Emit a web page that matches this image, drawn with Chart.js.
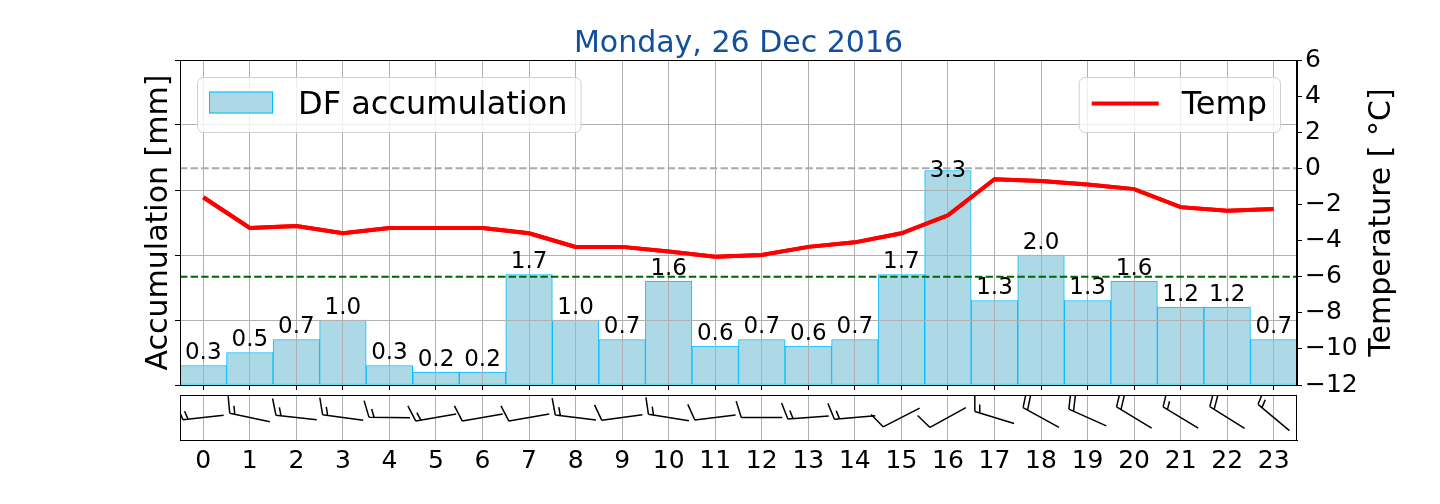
<!DOCTYPE html>
<html>
<head>
<meta charset="utf-8">
<title>DF accumulation</title>
<script src="https://cdn.jsdelivr.net/npm/chart.js@4.4.0/dist/chart.umd.min.js"></script>
<style>
  html, body { margin: 0; padding: 0; background: #fff; }
  #wrap { position: relative; width: 1440px; height: 504px; overflow: hidden; }
  #main-chart { position: absolute; left: 0; top: 0; }
  #wind-chart { position: absolute; left: 0; top: 392px; }
</style>
</head>
<body>
<div id="wrap">
  <canvas id="main-chart" width="1440" height="392"></canvas>
  <canvas id="wind-chart" width="1440" height="112"></canvas>
</div>
<script>
// data
const hours = ['0', '1', '2', '3', '4', '5', '6', '7', '8', '9', '10', '11',
  '12', '13', '14', '15', '16', '17', '18', '19', '20', '21', '22', '23'];
const accumulation = [0.3, 0.5, 0.7, 1.0, 0.3, 0.2, 0.2, 1.7, 1.0, 0.7, 1.6, 0.6,
  0.7, 0.6, 0.7, 1.7, 3.3, 1.3, 2.0, 1.3, 1.6, 1.2, 1.2, 0.7];
const temperature = [-1.6, -3.3, -3.2, -3.6, -3.3, -3.3, -3.3, -3.6, -4.35, -4.35, -4.6, -4.9,
  -4.8, -4.35, -4.1, -3.6, -2.6, -0.6, -0.7, -0.9, -1.15, -2.15, -2.35, -2.25];
// wind: direction it blows from (deg) and speed (kt)
const windDir = [264, 282, 276, 278, 271, 260, 260, 260, 277, 262, 279, 263,
  270, 266, 265, 243, 241, 287, 299, 294, 301, 301, 302, 310];
const windSpeed = [15, 15, 15, 15, 15, 15, 10, 10, 15, 10, 15, 10,
  10, 15, 15, 10, 10, 15, 20, 20, 20, 15, 20, 15];
const refLines = [0, -6]; // temperature reference lines

Chart.defaults.font.family = "'DejaVu Sans', sans-serif";
Chart.defaults.color = '#000';

const FONT = "'DejaVu Sans', sans-serif";
const minus = v => String(v).replace('-', '\u2212');

const drawLegendBox = (ctx, x, y, w, h) => {
  ctx.beginPath();
  ctx.roundRect(x + 0.5, y + 0.5, w, h, 6);
  ctx.fillStyle = 'rgba(255,255,255,0.8)';
  ctx.fill();
  ctx.strokeStyle = '#d0d0d0';
  ctx.lineWidth = 1;
  ctx.stroke();
};

const mainDecor = {
  id: 'mainDecor',
  afterDraw(chart) {
    const { ctx, chartArea: ca, scales } = chart;
    const yT = scales.yTemp;
    ctx.save();

    // dashed reference lines
    const lineColors = ['#aaaaaa', '#006400'];
    refLines.forEach((t, i) => {
      const py = yT.getPixelForValue(t);
      ctx.beginPath();
      ctx.setLineDash([7.4, 3.2]);
      ctx.strokeStyle = lineColors[i];
      ctx.lineWidth = 2;
      ctx.moveTo(ca.left, py);
      ctx.lineTo(ca.right, py);
      ctx.stroke();
    });
    ctx.setLineDash([]);

    // temperature line back on top of the grid
    chart.getDatasetMeta(0).controller.draw();

    // bar value labels
    const zeroY = yT.getPixelForValue(0);
    ctx.font = '23px ' + FONT;
    ctx.fillStyle = '#000';
    ctx.textAlign = 'center';
    ctx.textBaseline = 'alphabetic';
    chart.getDatasetMeta(1).data.forEach((bar, i) => {
      const ty = Math.max(bar.y - 6.5, zeroY + 8.4);
      ctx.fillText(accumulation[i].toFixed(1), bar.x, ty);
    });

    // frame
    ctx.strokeStyle = '#000';
    ctx.lineWidth = 1;
    ctx.strokeRect(Math.round(ca.left) + 0.5, Math.round(ca.top) + 0.5,
      Math.round(ca.width) - 1, Math.round(ca.height));

    // legends
    ctx.font = '32px ' + FONT;
    const boxTop = ca.top + 17, boxH = 55;
    const leftText = 'DF accumulation';
    const lx = ca.left + 17;
    const lw = 101 + ctx.measureText(leftText).width + 13;
    drawLegendBox(ctx, lx, boxTop, lw, boxH);
    ctx.fillStyle = '#add8e6';
    ctx.fillRect(lx + 12, boxTop + 14.5, 64, 22);
    ctx.strokeStyle = '#00bfff';
    ctx.strokeRect(lx + 12.5, boxTop + 15, 63, 21);
    ctx.fillStyle = '#000';
    ctx.textAlign = 'left';
    ctx.fillText(leftText, lx + 101, boxTop + 37);

    const rightText = 'Temp';
    const rw = 103 + ctx.measureText(rightText).width + 13;
    const rx = ca.right - 17 - rw;
    drawLegendBox(ctx, rx, boxTop, rw, boxH);
    ctx.beginPath();
    ctx.strokeStyle = '#ff0000';
    ctx.lineWidth = 4;
    ctx.moveTo(rx + 13, boxTop + 26.5);
    ctx.lineTo(rx + 80, boxTop + 26.5);
    ctx.stroke();
    ctx.fillStyle = '#000';
    ctx.fillText(rightText, rx + 103, boxTop + 37);

    // right axis title, reading upwards like the left one
    ctx.font = '30px ' + FONT;
    ctx.translate(1382, (ca.top + ca.bottom) / 2);
    ctx.rotate(-Math.PI / 2);
    ctx.textAlign = 'center';
    ctx.textBaseline = 'middle';
    ctx.fillText('Temperature [ \u00b0C]', 0, 0);
    ctx.restore();
  }
};

const mainChart = new Chart(document.getElementById('main-chart'), {
  type: 'bar',
  data: {
    labels: hours,
    datasets: [{
      type: 'line',
      label: 'Temp',
      data: temperature,
      yAxisID: 'yTemp',
      borderColor: '#ff0000',
      borderWidth: 4,
      pointRadius: 0,
      tension: 0,
      fill: false
    }, {
      label: 'DF accumulation',
      data: accumulation,
      yAxisID: 'yAcc',
      backgroundColor: '#add8e6',
      borderColor: '#00bfff',
      borderWidth: 1,
      borderSkipped: false,
      barPercentage: 1,
      categoryPercentage: 1
    }]
  },
  options: {
    responsive: false,
    animation: false,
    layout: { padding: 0 },
    plugins: {
      legend: { display: false },
      tooltip: { enabled: false },
      title: {
        display: true,
        text: 'Monday, 26 Dec 2016',
        color: '#12509e',
        fullSize: false,
        font: { size: 30, weight: 'normal', lineHeight: 1 },
        padding: { top: 29, bottom: 1 }
      }
    },
    scales: {
      x: {
        offset: true,
        grid: { offset: false, color: '#b0b0b0', tickColor: '#000', tickLength: 5, z: 1 },
        border: { display: false },
        ticks: { autoSkip: false, maxRotation: 0, padding: 0, callback: () => '' },
        afterFit: s => {
          s.height = 7;
          s.paddingLeft = 0;
          s.paddingRight = 0;
        }
      },
      yAcc: {
        position: 'left',
        min: 0,
        max: 5,
        grid: { color: '#b0b0b0', tickColor: '#000', tickLength: 5, z: 1 },
        border: { display: false },
        ticks: { stepSize: 1, callback: () => '' },
        title: {
          display: true,
          text: 'Accumulation [mm]',
          font: { size: 30, lineHeight: 1.2 },
          padding: { top: 141, bottom: 0 }
        },
        afterFit: s => {
          s.width = 180;
          s.paddingTop = 0;
          s.paddingBottom = 0;
        }
      },
      yTemp: {
        position: 'right',
        min: -12,
        max: 6,
        grid: { drawOnChartArea: false, tickColor: '#000', tickLength: 5 },
        border: { color: '#000' },
        ticks: { stepSize: 2, padding: 3, font: { size: 25 }, callback: v => minus(v) },
        afterFit: s => {
          s.width = 143;
          s.paddingTop = 0;
          s.paddingBottom = 0;
        }
      }
    }
  },
  plugins: [mainDecor]
});

// wind barbs, drawn like matplotlib's barbs(pivot='middle')
const windBarbs = {
  id: 'windBarbs',
  afterDraw(chart) {
    const { ctx, chartArea: ca, scales: { x, y } } = chart;
    const L = 41, h = 0.4 * L, w = 0.25 * L, sp = 0.125 * L;
    ctx.save();
    ctx.beginPath();
    ctx.rect(ca.left, ca.top, ca.width, ca.height);
    ctx.clip();
    ctx.strokeStyle = '#000';
    ctx.lineWidth = 1.5;
    windSpeed.forEach((spd, i) => {
      const cx = x.getPixelForValue(i);
      const cy = y.getPixelForValue(0.5);
      const rad = windDir[i] * Math.PI / 180;
      const ux = Math.sin(rad), uy = -Math.cos(rad); // towards the wind source
      const bx = Math.cos(rad), by = Math.sin(rad); // barb side
      const pt = (s, k) => [cx + s * ux + k * bx, cy + s * uy + k * by];
      ctx.beginPath();
      ctx.moveTo(...pt(-L / 2, 0));
      ctx.lineTo(...pt(L / 2, 0));
      let off = L / 2;
      for (let n = 0; n < Math.floor(spd / 10); n++) {
        ctx.moveTo(...pt(off, 0));
        ctx.lineTo(...pt(off + w / 2, h));
        off -= sp;
      }
      if (spd % 10 >= 5) {
        if (off === L / 2) off -= 1.5 * sp;
        ctx.moveTo(...pt(off, 0));
        ctx.lineTo(...pt(off + w / 4, h / 2));
      }
      ctx.stroke();
    });
    ctx.restore();

    ctx.save();
    ctx.strokeStyle = '#000';
    ctx.lineWidth = 1;
    ctx.strokeRect(Math.round(ca.left) + 0.5, Math.round(ca.top) + 0.5,
      Math.round(ca.width) - 1, Math.round(ca.height));
    ctx.restore();
  }
};

const windChart = new Chart(document.getElementById('wind-chart'), {
  type: 'line',
  data: { labels: hours, datasets: [] },
  options: {
    responsive: false,
    animation: false,
    layout: { padding: { top: 3, left: 180, right: 143, bottom: 0 } },
    plugins: {
      legend: { display: false },
      tooltip: { enabled: false }
    },
    scales: {
      x: {
        offset: true,
        grid: { offset: false, color: '#b0b0b0', drawTicks: false },
        border: { color: '#000' },
        ticks: { autoSkip: false, maxRotation: 0, padding: 6, font: { size: 25 } },
        afterFit: s => { s.height = 64; }
      },
      y: { display: false, min: 0, max: 1 }
    }
  },
  plugins: [windBarbs]
});
</script>
</body>
</html>
